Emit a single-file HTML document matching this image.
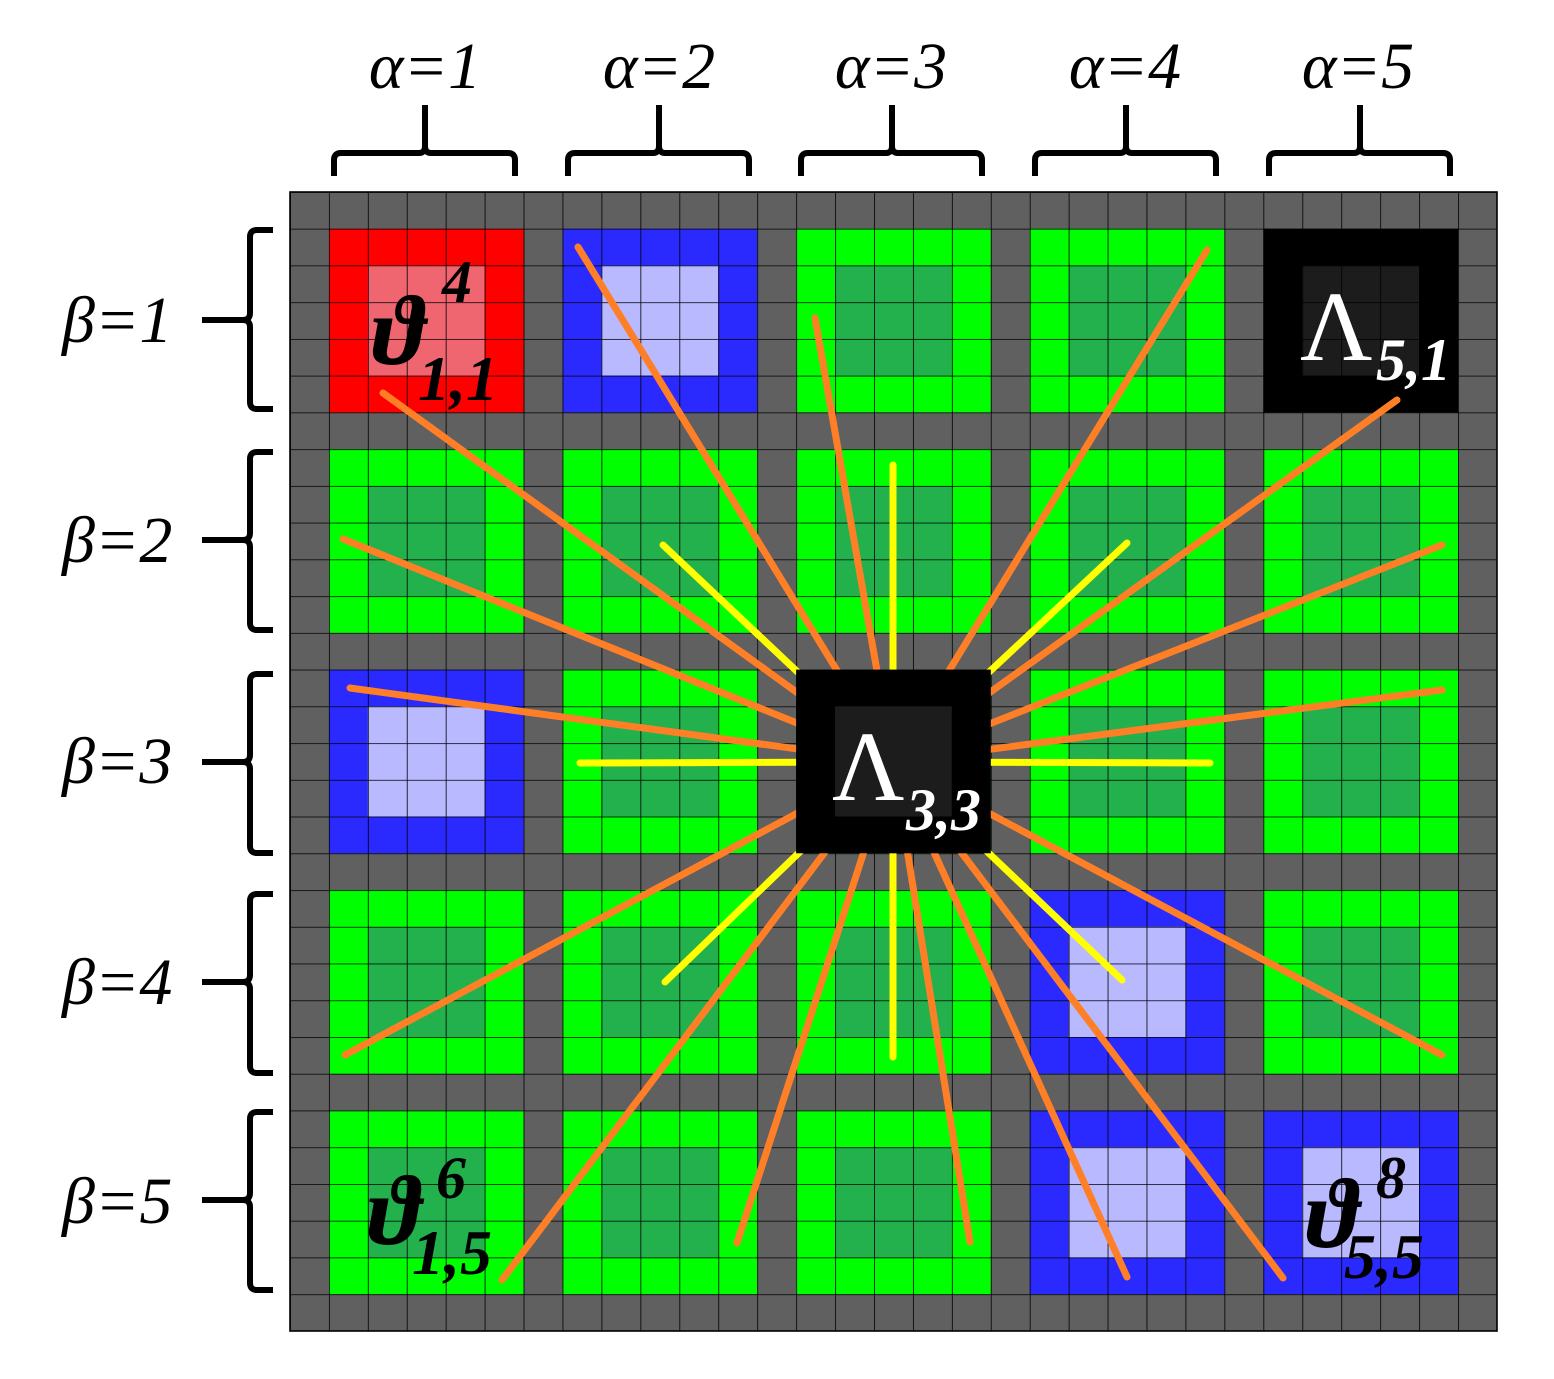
<!DOCTYPE html>
<html><head><style>html,body{margin:0;padding:0;background:#fff}svg{display:block}</style></head>
<body>
<svg width="1554" height="1379" viewBox="0 0 1554 1379" xmlns="http://www.w3.org/2000/svg">
<defs>
<pattern id="g" x="290" y="192" width="38.935" height="36.742" patternUnits="userSpaceOnUse">
<path d="M0 0H38.935M0 0V36.742" stroke="#000" stroke-width="1.6" fill="none"/>
</pattern>
<g id="G"><rect width="194.7" height="183.7" fill="#00ff00"/><rect x="38.9" y="36.7" width="116.8" height="110.2" fill="#22b14c"/></g>
<g id="B"><rect width="194.7" height="183.7" fill="#2a2aff"/><rect x="38.9" y="36.7" width="116.8" height="110.2" fill="#b9b9ff"/></g>
<g id="R"><rect width="194.7" height="183.7" fill="#ff0000"/><rect x="38.9" y="36.7" width="116.8" height="110.2" fill="#f06670"/></g>
<g id="K"><rect width="194.7" height="183.7" fill="#000"/><rect x="38.9" y="36.7" width="116.8" height="110.2" fill="#1c1c1c"/></g>
</defs>
<rect x="290" y="192" width="1207" height="1139" fill="#606060"/>
<use href="#R" x="328.9" y="228.7"/><use href="#B" x="562.5" y="228.7"/><use href="#G" x="796.1" y="228.7"/><use href="#G" x="1029.7" y="228.7"/><use href="#K" x="1263.3" y="228.7"/>
<use href="#G" x="328.9" y="449.2"/><use href="#G" x="562.5" y="449.2"/><use href="#G" x="796.1" y="449.2"/><use href="#G" x="1029.7" y="449.2"/><use href="#G" x="1263.3" y="449.2"/>
<use href="#B" x="328.9" y="669.6"/><use href="#G" x="562.5" y="669.6"/><use href="#G" x="796.1" y="669.6"/><use href="#G" x="1029.7" y="669.6"/><use href="#G" x="1263.3" y="669.6"/>
<use href="#G" x="328.9" y="890.1"/><use href="#G" x="562.5" y="890.1"/><use href="#G" x="796.1" y="890.1"/><use href="#B" x="1029.7" y="890.1"/><use href="#G" x="1263.3" y="890.1"/>
<use href="#G" x="328.9" y="1110.5"/><use href="#G" x="562.5" y="1110.5"/><use href="#G" x="796.1" y="1110.5"/><use href="#B" x="1029.7" y="1110.5"/><use href="#B" x="1263.3" y="1110.5"/>
<rect x="290" y="192" width="1207" height="1139" fill="url(#g)" stroke="#000" stroke-width="1.6"/>
<g stroke="#ff7f27" stroke-width="7" stroke-linecap="round">
<line x1="383" y1="393" x2="893" y2="762"/><line x1="578" y1="247" x2="893" y2="762"/><line x1="815" y1="318" x2="893" y2="762"/><line x1="1207" y1="250" x2="893" y2="762"/><line x1="1397" y1="400" x2="893" y2="762"/><line x1="343" y1="539" x2="893" y2="762"/><line x1="1442" y1="545" x2="893" y2="762"/><line x1="350" y1="688" x2="893" y2="762"/><line x1="1442" y1="690" x2="893" y2="762"/><line x1="345" y1="1055" x2="893" y2="762"/><line x1="1442" y1="1055" x2="893" y2="762"/><line x1="502" y1="1280" x2="893" y2="762"/><line x1="737" y1="1243" x2="893" y2="762"/><line x1="970" y1="1242" x2="893" y2="762"/><line x1="1127" y1="1277" x2="893" y2="762"/><line x1="1283" y1="1278" x2="893" y2="762"/>
</g>
<g stroke="#ffff00" stroke-width="7" stroke-linecap="round">
<line x1="663" y1="545" x2="893" y2="762"/><line x1="893" y1="465" x2="893" y2="762"/><line x1="1127" y1="543" x2="893" y2="762"/><line x1="580" y1="763" x2="893" y2="762"/><line x1="1210" y1="763" x2="893" y2="762"/><line x1="665" y1="982" x2="893" y2="762"/><line x1="893" y1="1057" x2="893" y2="762"/><line x1="1122" y1="980" x2="893" y2="762"/>
</g>
<use href="#K" x="796.1" y="669.6"/>
<g font-family="Liberation Serif, serif" font-style="italic" font-weight="bold">
<text x="372" y="364" font-size="100">ϑ</text><text x="442" y="302" font-size="60">4</text><text x="418" y="400" font-size="64">1,1</text>
<text x="368" y="1244" font-size="100">ϑ</text><text x="436" y="1198" font-size="60">6</text><text x="412" y="1274" font-size="64">1,5</text>
<text x="1306" y="1247" font-size="100">ϑ</text><text x="1376" y="1198" font-size="60">8</text><text x="1344" y="1278" font-size="64">5,5</text>
</g>
<g font-family="Liberation Serif, serif" fill="#fff">
<text x="1300" y="360" font-size="100">Λ</text><text x="1376" y="380" font-size="60" font-style="italic" font-weight="bold">5,1</text>
<text x="832" y="800" font-size="100">Λ</text><text x="906" y="830" font-size="60" font-style="italic" font-weight="bold">3,3</text>
</g>
<g font-family="Liberation Serif, serif" font-style="italic" font-size="66" text-anchor="middle">
<text x="425" y="88">α=1</text><text x="659" y="88">α=2</text><text x="891" y="88">α=3</text><text x="1125" y="88">α=4</text><text x="1358" y="88">α=5</text>
</g>
<g font-family="Liberation Serif, serif" font-style="italic" font-size="66">
<text x="62" y="342">β=1</text><text x="62" y="562">β=2</text><text x="62" y="783">β=3</text><text x="62" y="1004">β=4</text><text x="62" y="1223">β=5</text>
</g>
<g stroke="#000" stroke-width="6" fill="none">
<path d="M334 176V160Q334 153 341 153H419Q425 153 425 146V105M425 146Q425 153 431 153H508Q515 153 515 160V176"/>
<path d="M568 176V160Q568 153 575 153H653Q659 153 659 146V105M659 146Q659 153 665 153H742Q749 153 749 160V176"/>
<path d="M801 176V160Q801 153 808 153H886Q892 153 892 146V105M892 146Q892 153 898 153H975Q982 153 982 160V176"/>
<path d="M1035 176V160Q1035 153 1042 153H1120Q1126 153 1126 146V105M1126 146Q1126 153 1132 153H1209Q1216 153 1216 160V176"/>
<path d="M1269 176V160Q1269 153 1276 153H1354Q1360 153 1360 146V105M1360 146Q1360 153 1366 153H1443Q1450 153 1450 160V176"/>
<path d="M273 230H257Q250 230 250 237V313Q250 320 243 320H202M243 320Q250 320 250 327V402Q250 409 257 409H273"/>
<path d="M273 452H257Q250 452 250 459V533Q250 540 243 540H202M243 540Q250 540 250 547V623Q250 630 257 630H273"/>
<path d="M273 674H257Q250 674 250 681V755Q250 762 243 762H202M243 762Q250 762 250 769V846Q250 853 257 853H273"/>
<path d="M273 894H257Q250 894 250 901V975Q250 982 243 982H202M243 982Q250 982 250 989V1066Q250 1073 257 1073H273"/>
<path d="M273 1112H257Q250 1112 250 1119V1193Q250 1200 243 1200H202M243 1200Q250 1200 250 1207V1283Q250 1290 257 1290H273"/>
</g>
</svg>
</body></html>
